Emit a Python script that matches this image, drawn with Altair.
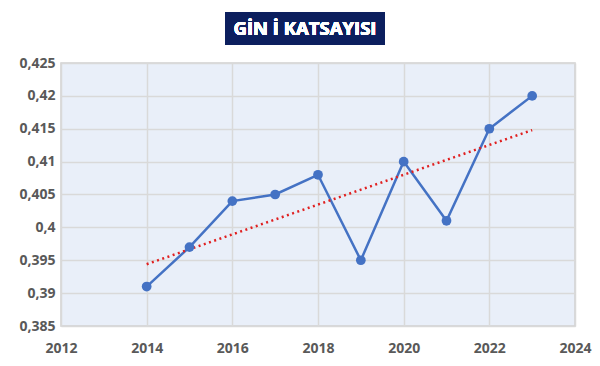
import altair as alt
import pandas as pd

years = [2014, 2015, 2016, 2017, 2018, 2019, 2020, 2021, 2022, 2023]
gini = [0.391, 0.397, 0.404, 0.405, 0.408, 0.395, 0.410, 0.401, 0.415, 0.420]
x_ticks = [2012, 2014, 2016, 2018, 2020, 2022, 2024]
y_ticks = [0.385, 0.39, 0.395, 0.4, 0.405, 0.41, 0.415, 0.42, 0.425]
title_text = "GİN İ KATSAYISI"

df = pd.DataFrame({"year": years, "gini": gini})

W, H = 514, 263
PL, PT = 53, 55

xs = alt.Scale(domain=[2012, 2024], nice=False)
ys = alt.Scale(domain=[0.385, 0.425], nice=False, zero=False)

label_style = dict(labelFont="Open Sans", labelFontSize=14, labelFontWeight="bold",
                   labelColor="#595959", domain=False, ticks=False, title=None,
                   labelOverlap=False, labelFlush=False, labelBound=False)

x_enc = alt.X("year:Q", scale=xs,
              axis=alt.Axis(values=x_ticks, format="d", grid=True, gridColor="#d9d9d9",
                            gridWidth=1.5, labelPadding=15, **label_style))
y_enc = alt.Y("gini:Q", scale=ys,
              axis=alt.Axis(values=y_ticks, grid=True, gridColor="#d9d9d9", gridWidth=1.5,
                            labelPadding=6,
                            labelExpr="replace(format(datum.value, '.3~f'), '.', ',')",
                            **label_style))

base = alt.Chart(df).encode(x=x_enc, y=y_enc)

line = base.mark_line(color="#4472c4", strokeWidth=2.5)
pts = base.mark_point(filled=True, color="#4472c4", size=95, opacity=1)
trend = base.transform_regression("year", "gini").mark_line(
    color="#e02020", strokeWidth=2.5, strokeDash=[2, 3.5])

title_box = alt.Chart(df).mark_rect(color="#0c1f5e").encode(
    x=alt.value(164), x2=alt.value(324), y=alt.value(-51), y2=alt.value(-18))
title_txt = alt.Chart(df).mark_text(
    text=title_text, color="white", font="Open Sans", fontWeight="bold", fontSize=18.5,
    align="center", baseline="middle").encode(x=alt.value(244), y=alt.value(-34))

chart = alt.layer(line, trend, pts, title_box, title_txt).properties(
    width=W, height=H,
    autosize=alt.AutoSizeParams(type="none"),
    padding={"left": PL, "top": PT, "right": 584 - PL - W, "bottom": 350 - PT - H},
    background="white",
).configure_view(fill="#e9eff9", stroke="#d0d0d0", strokeWidth=1.5)

chart.save("out.html", embed_options={"renderer": "svg", "actions": False})
